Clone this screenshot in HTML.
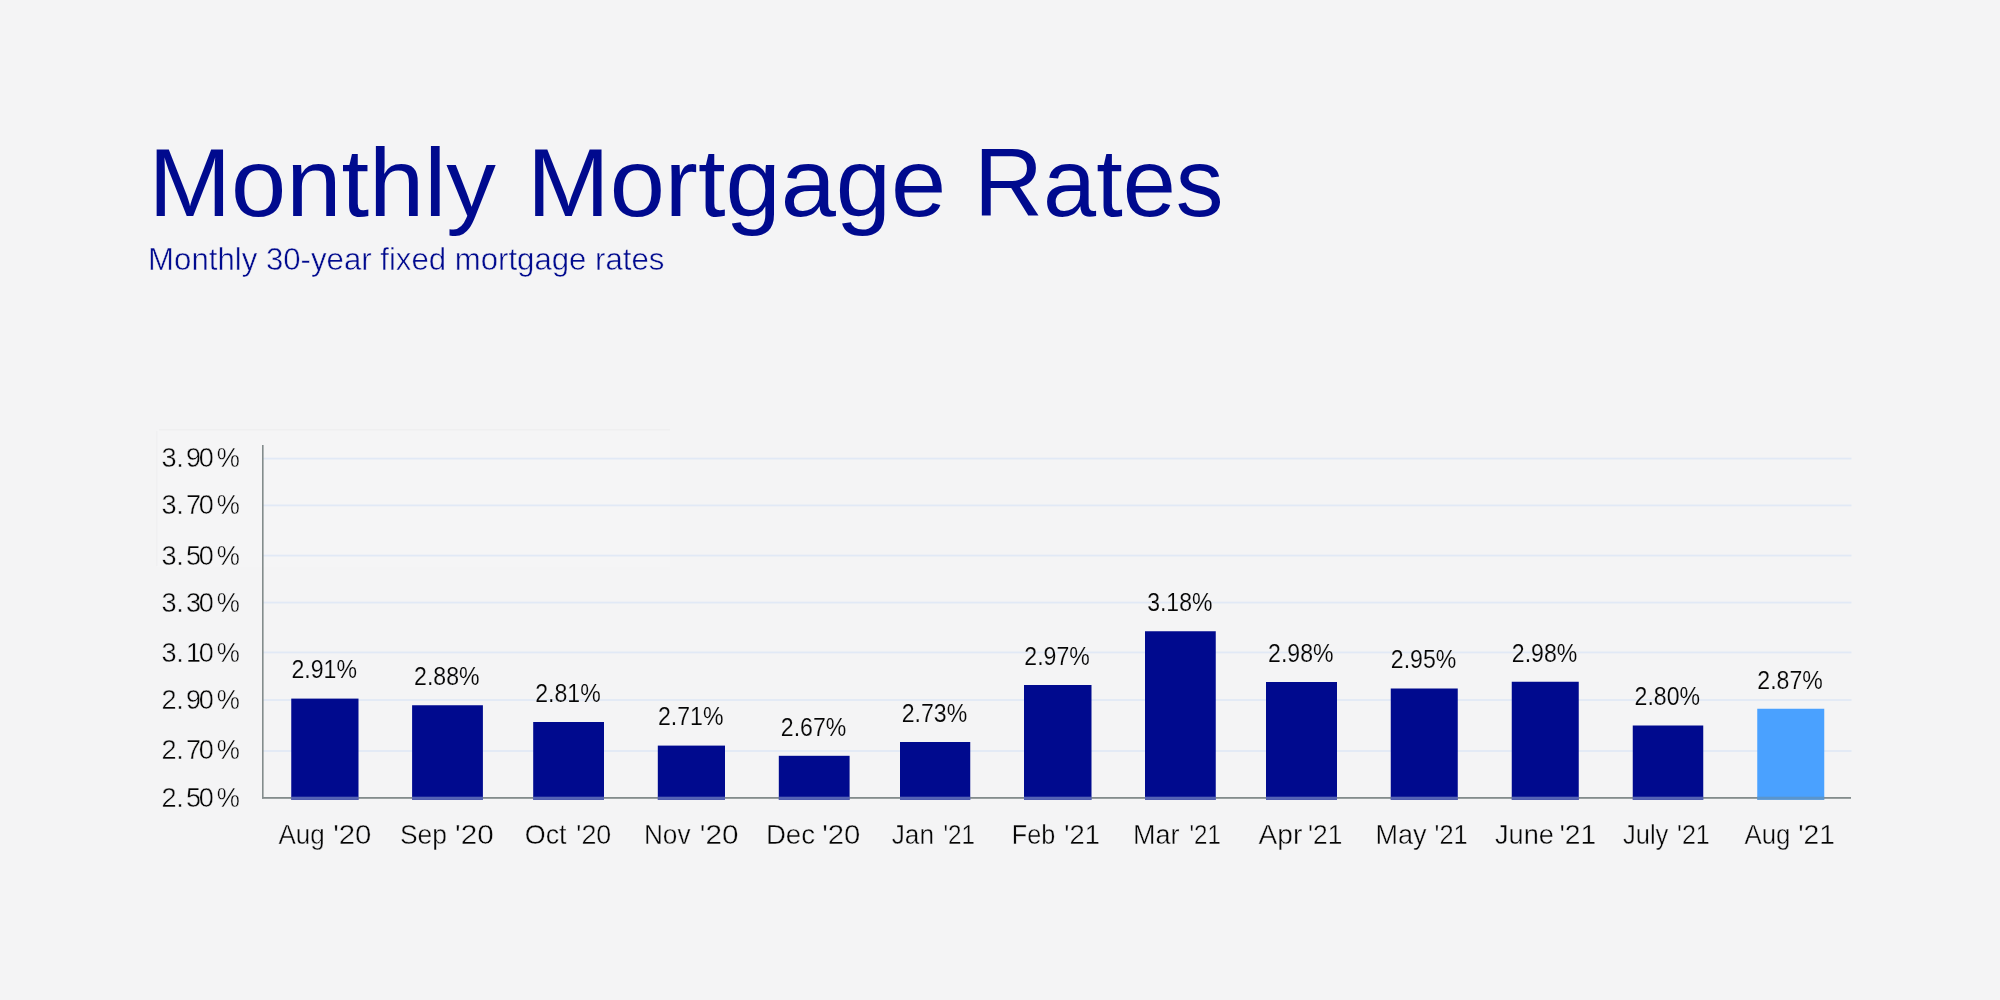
<!DOCTYPE html>
<html><head><meta charset="utf-8"><title>Monthly Mortgage Rates</title>
<style>
html,body{margin:0;padding:0;background:#f4f4f5;}
body{width:2000px;height:1000px;overflow:hidden;position:relative;font-family:"Liberation Sans",sans-serif;}
svg{position:absolute;left:0;top:0;display:block;will-change:transform;}
text{font-family:"Liberation Sans",sans-serif;}
.t{fill:#000a8e;}
.k{fill:#050505;}
</style></head><body>
<svg width="2000" height="1000" viewBox="0 0 2000 1000">
<rect x="0" y="0" width="2000" height="1000" fill="#f4f4f5"/>
<rect x="157" y="430" width="513" height="137" fill="#f5f5f6"/>
<rect x="159" y="429" width="511" height="1.5" fill="#efeff0"/>
<rect x="156" y="431" width="1.5" height="135" fill="#f0f0f1"/>
<rect x="263" y="457.70" width="1588.5" height="1.8" fill="#e1e9f6"/>
<rect x="263" y="504.50" width="1588.5" height="1.8" fill="#e1e9f6"/>
<rect x="263" y="554.70" width="1588.5" height="1.8" fill="#e1e9f6"/>
<rect x="263" y="601.70" width="1588.5" height="1.8" fill="#e1e9f6"/>
<rect x="263" y="651.50" width="1588.5" height="1.8" fill="#e1e9f6"/>
<rect x="263" y="699.10" width="1588.5" height="1.8" fill="#e1e9f6"/>
<rect x="263" y="750.10" width="1588.5" height="1.8" fill="#e1e9f6"/>
<rect x="291.25" y="698.60" width="67.25" height="101.10" fill="#000a8e"/>
<rect x="412.10" y="705.25" width="70.80" height="94.45" fill="#000a8e"/>
<rect x="533.20" y="722.00" width="70.80" height="77.70" fill="#000a8e"/>
<rect x="657.80" y="745.60" width="67.20" height="54.10" fill="#000a8e"/>
<rect x="778.80" y="755.80" width="70.80" height="43.90" fill="#000a8e"/>
<rect x="900.00" y="742.00" width="70.25" height="57.70" fill="#000a8e"/>
<rect x="1024.00" y="685.00" width="67.50" height="114.70" fill="#000a8e"/>
<rect x="1145.00" y="631.25" width="70.75" height="168.45" fill="#000a8e"/>
<rect x="1266.00" y="682.00" width="71.00" height="117.70" fill="#000a8e"/>
<rect x="1390.75" y="688.50" width="67.00" height="111.20" fill="#000a8e"/>
<rect x="1511.75" y="681.75" width="67.00" height="117.95" fill="#000a8e"/>
<rect x="1632.75" y="725.50" width="70.50" height="74.20" fill="#000a8e"/>
<rect x="1757.25" y="708.75" width="67.00" height="90.95" fill="#4aa1ff"/>
<rect x="262" y="445" width="1.6" height="353.5" fill="#838c8c"/>
<rect x="262" y="797" width="1589" height="1.8" fill="#838c8c"/>
<rect x="291.25" y="796.7" width="67.25" height="3" fill="#5563b4"/>
<rect x="412.10" y="796.7" width="70.80" height="3" fill="#5563b4"/>
<rect x="533.20" y="796.7" width="70.80" height="3" fill="#5563b4"/>
<rect x="657.80" y="796.7" width="67.20" height="3" fill="#5563b4"/>
<rect x="778.80" y="796.7" width="70.80" height="3" fill="#5563b4"/>
<rect x="900.00" y="796.7" width="70.25" height="3" fill="#5563b4"/>
<rect x="1024.00" y="796.7" width="67.50" height="3" fill="#5563b4"/>
<rect x="1145.00" y="796.7" width="70.75" height="3" fill="#5563b4"/>
<rect x="1266.00" y="796.7" width="71.00" height="3" fill="#5563b4"/>
<rect x="1390.75" y="796.7" width="67.00" height="3" fill="#5563b4"/>
<rect x="1511.75" y="796.7" width="67.00" height="3" fill="#5563b4"/>
<rect x="1632.75" y="796.7" width="70.50" height="3" fill="#5563b4"/>
<rect x="1757.25" y="796.7" width="67.00" height="3" fill="#5b95cb"/>
<text class="t" transform="translate(148.39 216.00) scale(1.0341 1)" font-size="96.0">Monthly</text>
<text class="t" transform="translate(526.99 216.00) scale(1.0338 1)" font-size="96.0">Mortgage</text>
<text class="t" transform="translate(974.09 216.00) scale(0.9946 1)" font-size="96.0">Rates</text>
<text class="t" transform="translate(148.09 270.15) scale(0.9701 1)" font-size="32.15" stroke="#f4f4f5" stroke-width="0.50">Monthly 30-year fixed mortgage rates</text>
<text class="k" transform="translate(216.80 466.80) scale(0.9628 1)" font-size="27.05" stroke="#f4f4f5" stroke-width="0.40">%</text>
<text class="k" transform="translate(216.80 514.20) scale(0.9628 1)" font-size="27.05" stroke="#f4f4f5" stroke-width="0.40">%</text>
<text class="k" transform="translate(216.80 564.60) scale(0.9628 1)" font-size="27.05" stroke="#f4f4f5" stroke-width="0.40">%</text>
<text class="k" transform="translate(216.80 611.80) scale(0.9628 1)" font-size="27.05" stroke="#f4f4f5" stroke-width="0.40">%</text>
<text class="k" transform="translate(216.80 662.20) scale(0.9628 1)" font-size="27.05" stroke="#f4f4f5" stroke-width="0.40">%</text>
<text class="k" transform="translate(216.80 708.80) scale(0.9628 1)" font-size="27.05" stroke="#f4f4f5" stroke-width="0.40">%</text>
<text class="k" transform="translate(216.80 759.20) scale(0.9628 1)" font-size="27.05" stroke="#f4f4f5" stroke-width="0.40">%</text>
<text class="k" transform="translate(216.80 806.60) scale(0.9628 1)" font-size="27.05" stroke="#f4f4f5" stroke-width="0.40">%</text>
<text class="k" transform="translate(291.46 678.43) scale(0.8747 1)" font-size="26.4" stroke="#f4f4f5" stroke-width="0.15">2.91%</text>
<text class="k" transform="translate(414.09 685.08) scale(0.8747 1)" font-size="26.4" stroke="#f4f4f5" stroke-width="0.15">2.88%</text>
<text class="k" transform="translate(535.19 701.83) scale(0.8747 1)" font-size="26.4" stroke="#f4f4f5" stroke-width="0.15">2.81%</text>
<text class="k" transform="translate(657.99 725.43) scale(0.8747 1)" font-size="26.4" stroke="#f4f4f5" stroke-width="0.15">2.71%</text>
<text class="k" transform="translate(780.79 735.62) scale(0.8747 1)" font-size="26.4" stroke="#f4f4f5" stroke-width="0.15">2.67%</text>
<text class="k" transform="translate(901.71 721.83) scale(0.8747 1)" font-size="26.4" stroke="#f4f4f5" stroke-width="0.15">2.73%</text>
<text class="k" transform="translate(1024.34 664.83) scale(0.8747 1)" font-size="26.4" stroke="#f4f4f5" stroke-width="0.15">2.97%</text>
<text class="k" transform="translate(1147.19 611.08) scale(0.8717 1)" font-size="26.4" stroke="#f4f4f5" stroke-width="0.15">3.18%</text>
<text class="k" transform="translate(1268.09 661.83) scale(0.8747 1)" font-size="26.4" stroke="#f4f4f5" stroke-width="0.15">2.98%</text>
<text class="k" transform="translate(1390.84 668.33) scale(0.8747 1)" font-size="26.4" stroke="#f4f4f5" stroke-width="0.15">2.95%</text>
<text class="k" transform="translate(1511.84 661.58) scale(0.8747 1)" font-size="26.4" stroke="#f4f4f5" stroke-width="0.15">2.98%</text>
<text class="k" transform="translate(1634.59 705.33) scale(0.8747 1)" font-size="26.4" stroke="#f4f4f5" stroke-width="0.15">2.80%</text>
<text class="k" transform="translate(1757.34 688.58) scale(0.8747 1)" font-size="26.4" stroke="#f4f4f5" stroke-width="0.15">2.87%</text>
<text class="k" transform="translate(278.53 843.50) scale(0.9462 1)" font-size="27.49" stroke="#f4f4f5" stroke-width="0.40">Aug</text>
<text class="k" transform="translate(333.13 843.50) scale(1.0687 1)" font-size="27.49" stroke="#f4f4f5" stroke-width="0.40">'20</text>
<text class="k" transform="translate(399.96 843.50) scale(0.9609 1)" font-size="27.49" stroke="#f4f4f5" stroke-width="0.40">Sep</text>
<text class="k" transform="translate(455.11 843.50) scale(1.0779 1)" font-size="27.49" stroke="#f4f4f5" stroke-width="0.40">'20</text>
<text class="k" transform="translate(524.73 843.50) scale(0.9791 1)" font-size="27.49" stroke="#f4f4f5" stroke-width="0.40">Oct</text>
<text class="k" transform="translate(576.29 843.50) scale(0.9771 1)" font-size="27.49" stroke="#f4f4f5" stroke-width="0.40">'20</text>
<text class="k" transform="translate(643.91 843.50) scale(0.9543 1)" font-size="27.49" stroke="#f4f4f5" stroke-width="0.40">Nov</text>
<text class="k" transform="translate(699.71 843.50) scale(1.0809 1)" font-size="27.49" stroke="#f4f4f5" stroke-width="0.40">'20</text>
<text class="k" transform="translate(765.88 843.50) scale(1.0077 1)" font-size="27.49" stroke="#f4f4f5" stroke-width="0.40">Dec</text>
<text class="k" transform="translate(822.14 843.50) scale(1.0656 1)" font-size="27.49" stroke="#f4f4f5" stroke-width="0.40">'20</text>
<text class="k" transform="translate(891.68 843.50) scale(0.9542 1)" font-size="27.49" stroke="#f4f4f5" stroke-width="0.40">Jan</text>
<text class="k" transform="translate(943.45 843.50) scale(0.8831 1)" font-size="27.49" stroke="#f4f4f5" stroke-width="0.40">'21</text>
<text class="k" transform="translate(1011.81 843.50) scale(0.9172 1)" font-size="27.49" stroke="#f4f4f5" stroke-width="0.40">Feb</text>
<text class="k" transform="translate(1064.26 843.50) scale(0.9969 1)" font-size="27.49" stroke="#f4f4f5" stroke-width="0.40">'21</text>
<text class="k" transform="translate(1133.04 843.50) scale(0.9831 1)" font-size="27.49" stroke="#f4f4f5" stroke-width="0.40">Mar</text>
<text class="k" transform="translate(1189.47 843.50) scale(0.8769 1)" font-size="27.49" stroke="#f4f4f5" stroke-width="0.40">'21</text>
<text class="k" transform="translate(1258.59 843.50) scale(1.0241 1)" font-size="27.49" stroke="#f4f4f5" stroke-width="0.40">Apr</text>
<text class="k" transform="translate(1307.92 843.50) scale(0.9600 1)" font-size="27.49" stroke="#f4f4f5" stroke-width="0.40">'21</text>
<text class="k" transform="translate(1375.54 843.50) scale(0.9837 1)" font-size="27.49" stroke="#f4f4f5" stroke-width="0.40">May</text>
<text class="k" transform="translate(1434.58 843.50) scale(0.9262 1)" font-size="27.49" stroke="#f4f4f5" stroke-width="0.40">'21</text>
<text class="k" transform="translate(1494.96 843.50) scale(0.9878 1)" font-size="27.49" stroke="#f4f4f5" stroke-width="0.40">June</text>
<text class="k" transform="translate(1559.40 843.50) scale(1.0277 1)" font-size="27.49" stroke="#f4f4f5" stroke-width="0.40">'21</text>
<text class="k" transform="translate(1622.90 843.50) scale(0.9298 1)" font-size="27.49" stroke="#f4f4f5" stroke-width="0.40">July</text>
<text class="k" transform="translate(1677.10 843.50) scale(0.9138 1)" font-size="27.49" stroke="#f4f4f5" stroke-width="0.40">'21</text>
<text class="k" transform="translate(1744.53 843.50) scale(0.9398 1)" font-size="27.49" stroke="#f4f4f5" stroke-width="0.40">Aug</text>
<text class="k" transform="translate(1798.20 843.50) scale(1.0277 1)" font-size="27.49" stroke="#f4f4f5" stroke-width="0.40">'21</text>
<text class="k" x="161.6 176.25 186.1 198.7" y="466.80" font-size="27.05" stroke="#f4f4f5" stroke-width="0.40">3.90</text>
<text class="k" x="161.6 176.25 186.1 198.7" y="514.20" font-size="27.05" stroke="#f4f4f5" stroke-width="0.40">3.70</text>
<text class="k" x="161.6 176.25 186.1 198.7" y="564.60" font-size="27.05" stroke="#f4f4f5" stroke-width="0.40">3.50</text>
<text class="k" x="161.6 176.25 186.1 198.7" y="611.80" font-size="27.05" stroke="#f4f4f5" stroke-width="0.40">3.30</text>
<text class="k" x="161.6 176.25 186.1 198.7" y="662.20" font-size="27.05" stroke="#f4f4f5" stroke-width="0.40">3.10</text>
<text class="k" x="161.6 176.25 186.1 198.7" y="708.80" font-size="27.05" stroke="#f4f4f5" stroke-width="0.40">2.90</text>
<text class="k" x="161.6 176.25 186.1 198.7" y="759.20" font-size="27.05" stroke="#f4f4f5" stroke-width="0.40">2.70</text>
<text class="k" x="161.6 176.25 186.1 198.7" y="806.60" font-size="27.05" stroke="#f4f4f5" stroke-width="0.40">2.50</text>
</svg>
</body></html>
